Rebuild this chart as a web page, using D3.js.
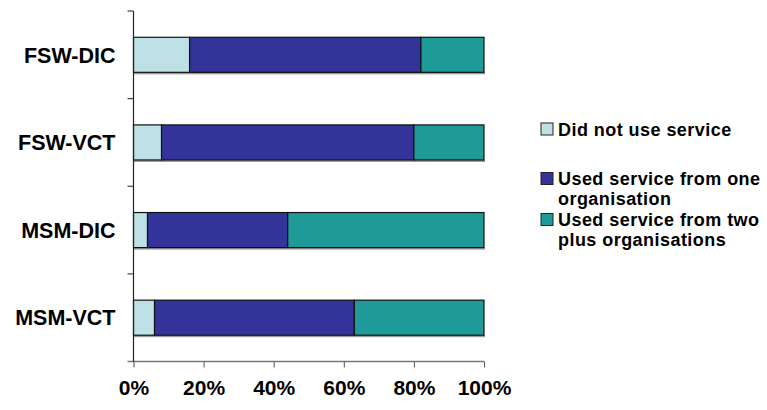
<!DOCTYPE html>
<html>
<head>
<meta charset="utf-8">
<script src="https://cdn.jsdelivr.net/npm/d3@7"></script>
<style>
  body { margin: 0; background: #fff; }
  svg text { font-family: "Liberation Sans", Arial, sans-serif; font-weight: bold; fill: #000; }
</style>
</head>
<body>
<svg id="chart" width="767" height="410"></svg>
<script>
const categories = ["FSW-DIC", "FSW-VCT", "MSM-DIC", "MSM-VCT"];
const seriesNames = ["Did not use service", "Used service from one organisation", "Used service from two plus organisations"];
const didNotUse = [16, 8, 4, 6];
const oneOrg = [66, 72, 40, 57];
const twoPlusOrg = [18, 20, 56, 37];
const tickValues = [0, 20, 40, 60, 80, 100];
const colors = ["#BDE1E4", "#333399", "#1E9A98"];
const legendLines = [["Did not use service"], ["Used service from one", "organisation"], ["Used service from two", "plus organisations"]];

const svg = d3.select("#chart");
const plotLeft = 133.5, plotRight = 484, plotTop = 11, plotBottom = 361.5;

const x = d3.scaleLinear().domain([0, 100]).range([plotLeft, plotRight]);
const y = d3.scaleBand().domain(categories).range([plotTop, plotBottom]).paddingInner(0.6).paddingOuter(0.3);

const rows = categories.map((c, i) => ({ cat: c, vals: [didNotUse[i], oneOrg[i], twoPlusOrg[i]] }));
const stack = d3.stack().keys([0, 1, 2]).value((d, k) => d.vals[k]);
const layers = stack(rows);

// bar shadows
svg.append("g").selectAll("rect")
  .data(rows)
  .join("rect")
  .attr("x", x(0))
  .attr("y", d => y(d.cat) + y.bandwidth())
  .attr("width", x(100) - x(0) + 1)
  .attr("height", 2)
  .attr("fill", "#9a9a9a");

svg.append("g").selectAll("g")
  .data(layers)
  .join("g")
  .attr("fill", (d, i) => colors[i])
  .selectAll("rect")
  .data(d => d)
  .join("rect")
  .attr("x", d => x(d[0]))
  .attr("y", d => y(d.data.cat))
  .attr("width", d => x(d[1]) - x(d[0]))
  .attr("height", y.bandwidth())
  .attr("stroke", "#111")
  .attr("stroke-width", 1.2);

// x axis
const xAxis = svg.append("g")
  .attr("transform", `translate(0,${plotBottom})`)
  .call(d3.axisBottom(x).tickValues(tickValues).tickSize(6).tickSizeOuter(0).tickFormat(d => d + "%"));
xAxis.select(".domain").attr("stroke", "#777").attr("stroke-width", 1.5).attr("d", `M${plotLeft - 6},0H${plotRight}`);
xAxis.selectAll(".tick line").attr("stroke", "#555");
xAxis.selectAll(".tick text").attr("dy", 0).attr("y", 33).style("font-size", "21px").attr("fill", "#000");

// y axis
const yAxis = svg.append("g").attr("transform", `translate(${plotLeft},0)`);
yAxis.append("line").attr("y1", plotTop).attr("y2", plotBottom).attr("stroke", "#222").attr("stroke-width", 1.2);
const bounds = d3.range(categories.length + 1).map(i => plotTop + i * y.step());
yAxis.selectAll(".yt").data(bounds.slice(0, -1)).join("line")
  .attr("class", "yt")
  .attr("x1", -6).attr("x2", 0).attr("y1", d => d).attr("y2", d => d)
  .attr("stroke", "#444").attr("stroke-width", 1.2);
yAxis.selectAll(".yl").data(categories).join("text")
  .attr("class", "yl")
  .attr("x", -18)
  .attr("y", d => y(d) + y.bandwidth() / 2)
  .attr("dy", "0.36em")
  .attr("text-anchor", "end")
  .style("font-size", "21.5px")
  .text(d => d);

// legend (baselines of first lines)
const legendBase = [135.5, 185, 226];
const lg = svg.append("g");
legendLines.forEach((lines, i) => {
  lg.append("rect")
    .attr("x", 541).attr("y", legendBase[i] - 12.5)
    .attr("width", 12).attr("height", 12)
    .attr("fill", colors[i]).attr("stroke", "#222").attr("stroke-width", 1);
  const t = lg.append("text").attr("x", 558).attr("y", legendBase[i])
    .style("font-size", "18px").style("letter-spacing", "0.45px");
  lines.forEach((l, j) => t.append("tspan").attr("x", 558).attr("dy", j === 0 ? 0 : 19.5).text(l));
});
</script>
</body>
</html>
